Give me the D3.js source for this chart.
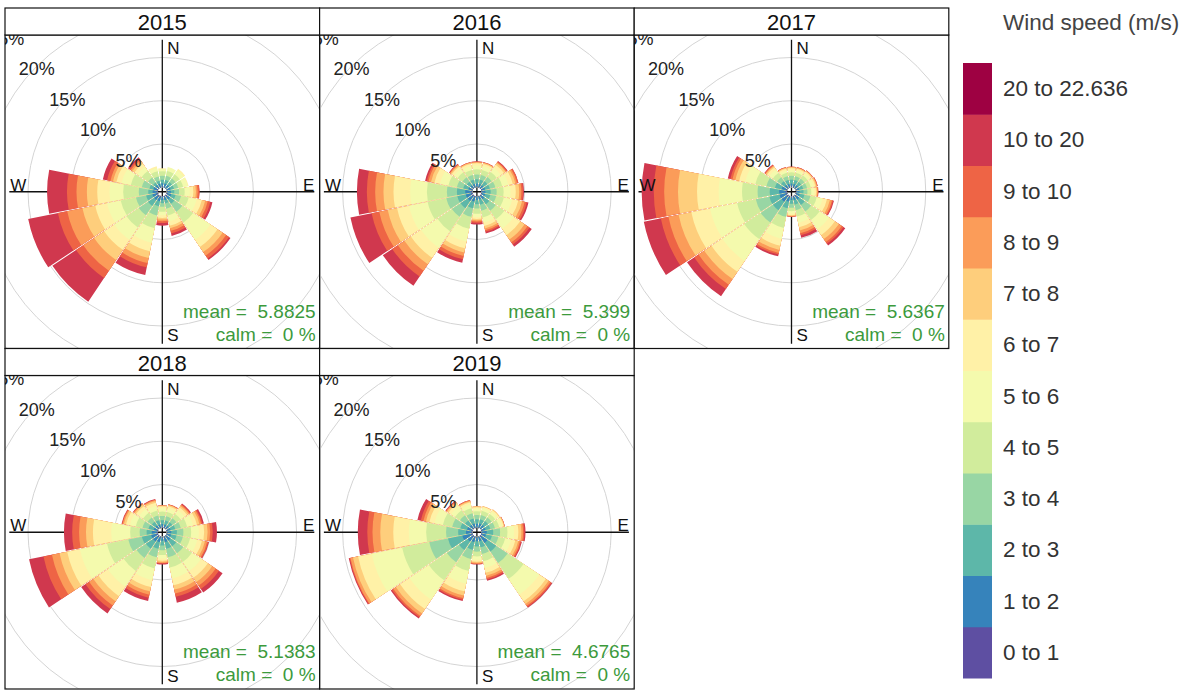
<!DOCTYPE html>
<html>
<head>
<meta charset="utf-8">
<script src="https://cdn.jsdelivr.net/npm/d3@7"></script>
<style>
  html, body { margin: 0; padding: 0; background: #fff; }
  svg text { font-family: "Liberation Sans", Arial, sans-serif; white-space: pre; }
</style>
</head>
<body>
<svg id="chart" width="1195" height="690"></svg>
<script>
// ---- data -------------------------------------------------------------
const years = ["2015", "2016", "2017", "2018", "2019"];
const directions = ["N","NNE","NE","ENE","E","ESE","SE","SSE","S","SSW","SW","WSW","W","WNW","NW","NNW"];
const bearings = [0, 22.5, 45, 67.5, 90, 112.5, 135, 157.5, 180, 202.5, 225, 247.5, 270, 292.5, 315, 337.5];
const speedBins = ["0 to 1","1 to 2","2 to 3","3 to 4","4 to 5","5 to 6","6 to 7","7 to 8","8 to 9","9 to 10","10 to 20","20 to 22.636"];
const meanSpeed = ["5.8825", "5.399", "5.6367", "5.1383", "4.6765"];
const calmPct = [0, 0, 0, 0, 0];
const ringTicks = [5, 10, 15, 20, 25];

// frequency (%) per direction (rows, N..NNW) and speed bin (columns, 0-1 .. 20-22.636)
const freq2015 = [
  [0.12,0.35,0.40,0.45,0.53,0.25,0.10,0,0,0,0,0],
  [0.12,0.35,0.40,0.50,0.58,0.45,0,0,0,0,0,0],
  [0.12,0.35,0.40,0.50,0.58,0.55,0.20,0,0,0,0,0],
  [0.12,0.35,0.40,0.50,0.58,0.55,0.10,0,0,0,0,0],
  [0.12,0.35,0.40,0.55,0.65,0.60,0.40,0.30,0.20,0.20,0.03,0],
  [0.15,0.40,0.50,0.65,0.90,0.95,0.60,0.40,0.30,0.30,0.25,0],
  [0.18,0.42,0.60,1.10,1.50,2.40,1.00,0.70,0.50,0.40,0.20,0],
  [0.12,0.35,0.40,0.63,0.80,0.70,0.50,0.30,0.30,0.30,0.30,0],
  [0.12,0.33,0.35,0.40,0.60,0.40,0.30,0.20,0.20,0.20,0.30,0],
  [0.20,0.40,0.60,1.10,1.50,1.70,1.00,0.80,0.60,0.50,0.90,0],
  [0.20,0.45,0.85,1.30,1.70,1.70,1.40,1.40,1.50,1.00,3.30,0],
  [0.20,0.45,0.75,1.20,1.80,1.60,1.40,1.50,1.80,1.10,3.50,0],
  [0.15,0.45,0.50,1.10,1.80,1.60,1.40,1.20,1.20,1.10,2.30,0],
  [0.15,0.40,0.45,0.90,1.30,1.10,0.60,0.40,0.30,0.40,0.50,0],
  [0.12,0.35,0.33,0.70,0.90,0.60,0.40,0.30,0.20,0.20,0.20,0],
  [0.12,0.33,0.35,0.50,0.60,0.40,0.20,0,0,0,0,0]
];
const freq2016 = [
  [0.12,0.30,0.50,0.55,0.60,0.45,0.25,0.10,0.06,0.04,0.03,0],
  [0.12,0.30,0.50,0.55,0.60,0.45,0.25,0.10,0.06,0.04,0.03,0],
  [0.12,0.30,0.55,0.60,0.70,0.60,0.40,0.25,0.10,0.10,0.08,0],
  [0.12,0.35,0.55,0.65,0.80,0.75,0.50,0.30,0.20,0.15,0.03,0],
  [0.12,0.35,0.60,0.70,0.80,0.80,0.60,0.40,0.25,0.20,0.10,0],
  [0.12,0.35,0.60,0.70,0.90,1.00,0.70,0.45,0.30,0.25,0.20,0],
  [0.15,0.40,0.70,0.90,1.20,1.30,0.90,0.60,0.40,0.30,0.30,0],
  [0.12,0.30,0.60,0.70,0.80,0.60,0.40,0.30,0.20,0.20,0.20,0],
  [0.12,0.30,0.50,0.50,0.60,0.40,0.20,0.15,0.15,0.15,0.20,0],
  [0.15,0.50,0.80,1.00,1.40,1.50,0.80,0.50,0.40,0.40,0.40,0],
  [0.20,0.60,1.00,1.20,2.00,2.30,1.40,0.90,0.90,0.80,1.30,0],
  [0.20,0.60,1.00,1.30,2.20,2.20,1.40,1.10,1.00,0.90,2.50,0],
  [0.20,0.63,0.96,1.16,2.31,1.93,1.93,1.16,0.96,0.96,1.15,0],
  [0.15,0.35,0.60,0.75,1.00,1.00,0.65,0.40,0.30,0.20,0.20,0],
  [0.12,0.30,0.50,0.60,0.70,0.50,0.30,0.15,0.10,0.07,0.06,0],
  [0.12,0.30,0.50,0.55,0.60,0.45,0.25,0.10,0.06,0.04,0.03,0]
];
const freq2017 = [
  [0.12,0.30,0.45,0.45,0.40,0.30,0.18,0.10,0.05,0.03,0.02,0],
  [0.12,0.30,0.45,0.45,0.40,0.30,0.18,0.10,0.05,0.03,0.02,0],
  [0.12,0.30,0.45,0.45,0.45,0.33,0.20,0.10,0.05,0.03,0.02,0],
  [0.12,0.30,0.45,0.45,0.45,0.35,0.20,0.12,0.08,0.05,0.03,0],
  [0.12,0.30,0.45,0.45,0.45,0.35,0.20,0.12,0.08,0.05,0.03,0],
  [0.12,0.35,0.55,0.70,0.75,0.70,0.50,0.35,0.25,0.13,0.10,0],
  [0.15,0.45,0.75,0.90,1.20,1.30,0.80,0.55,0.40,0.25,0.25,0],
  [0.12,0.35,0.55,0.65,0.75,0.75,0.50,0.40,0.30,0.25,0.30,0],
  [0.12,0.30,0.45,0.45,0.40,0.30,0.15,0.10,0.06,0.04,0.03,0],
  [0.15,0.50,0.80,1.00,1.30,1.30,0.80,0.50,0.35,0.20,0.20,0],
  [0.20,0.70,1.20,1.70,2.30,3.05,1.50,1.00,0.80,0.60,1.00,0],
  [0.20,0.70,1.20,1.60,2.20,3.20,2.20,1.50,1.20,0.90,2.00,0],
  [0.20,0.70,1.10,1.40,1.80,2.70,2.50,2.20,1.60,1.20,1.40,0],
  [0.15,0.50,0.80,1.00,1.30,1.20,0.70,0.45,0.35,0.25,0.30,0],
  [0.12,0.35,0.50,0.55,0.60,0.50,0.30,0.15,0.10,0.08,0.05,0],
  [0.12,0.30,0.45,0.45,0.40,0.30,0.18,0.10,0.05,0.03,0.02,0]
];
const freq2018 = [
  [0.12,0.30,0.45,0.50,0.50,0.40,0.20,0.08,0.03,0.01,0.01,0],
  [0.12,0.30,0.45,0.50,0.50,0.45,0.25,0.12,0.05,0.04,0.02,0],
  [0.12,0.30,0.50,0.55,0.60,0.55,0.35,0.20,0.13,0.10,0.10,0],
  [0.12,0.35,0.55,0.65,0.75,0.70,0.45,0.30,0.20,0.15,0.18,0],
  [0.12,0.40,0.65,0.75,0.90,0.90,0.60,0.40,0.30,0.30,0.48,0],
  [0.12,0.40,0.65,0.75,0.85,0.85,0.55,0.35,0.25,0.15,0.08,0],
  [0.15,0.50,0.80,1.00,1.20,1.30,0.90,0.60,0.50,0.45,0.50,0],
  [0.15,0.50,0.80,1.00,1.20,1.30,0.80,0.50,0.45,0.40,0.70,0],
  [0.12,0.35,0.55,0.55,0.55,0.40,0.25,0.15,0.10,0.08,0.10,0],
  [0.15,0.50,0.80,1.00,1.30,1.40,0.80,0.50,0.40,0.35,0.40,0],
  [0.20,0.60,1.00,1.30,1.80,2.20,1.30,0.70,0.60,0.50,0.60,0],
  [0.20,0.60,1.10,1.60,2.50,3.20,1.50,0.90,0.90,1.00,1.70,0],
  [0.15,0.55,0.60,0.80,1.10,2.20,2.10,0.80,0.80,0.80,0.95,0],
  [0.12,0.40,0.60,0.70,0.80,0.70,0.45,0.25,0.15,0.08,0.05,0],
  [0.12,0.35,0.50,0.60,0.65,0.55,0.40,0.20,0.12,0.06,0.05,0],
  [0.12,0.30,0.50,0.55,0.60,0.55,0.35,0.20,0.12,0.06,0.05,0]
];
const freq2019 = [
  [0.12,0.35,0.50,0.50,0.45,0.30,0.15,0.08,0.05,0,0,0],
  [0.12,0.40,0.50,0.50,0.50,0.33,0.15,0.06,0.04,0,0,0],
  [0.12,0.40,0.55,0.50,0.50,0.35,0.18,0.07,0.03,0,0,0],
  [0.12,0.40,0.55,0.55,0.50,0.35,0.18,0.08,0.04,0.02,0.01,0],
  [0.12,0.50,0.75,0.80,0.85,0.75,0.50,0.35,0.20,0.15,0.13,0],
  [0.12,0.45,0.70,0.75,0.80,0.70,0.50,0.35,0.20,0.13,0.10,0],
  [0.20,0.80,1.20,1.60,2.20,2.20,0.90,0.40,0.25,0.15,0.10,0],
  [0.12,0.45,0.70,0.80,0.85,0.80,0.55,0.35,0.25,0.18,0.15,0],
  [0.12,0.40,0.60,0.60,0.55,0.40,0.22,0.12,0.08,0.06,0.05,0],
  [0.15,0.50,0.90,1.10,1.40,1.50,0.90,0.50,0.30,0.20,0.15,0],
  [0.20,0.60,1.20,1.70,2.50,2.70,1.30,0.60,0.35,0.20,0.15,0],
  [0.20,1.00,1.70,2.20,3.20,3.60,1.60,0.60,0.30,0.10,0.10,0],
  [0.15,0.60,0.90,1.40,2.30,2.00,1.80,1.50,0.90,0.60,1.10,0],
  [0.15,0.50,0.80,0.95,1.10,1.00,0.60,0.40,0.30,0.30,0.40,0],
  [0.12,0.40,0.65,0.70,0.70,0.55,0.35,0.20,0.10,0.05,0.08,0],
  [0.12,0.40,0.60,0.60,0.60,0.45,0.25,0.14,0.08,0.04,0.02,0]
];
const yearFreq = [freq2015, freq2016, freq2017, freq2018, freq2019];

// ---- colours: Spectral ramp sampled into 12 speed classes ----------------
const spectral = ["#5E4FA2","#3288BD","#66C2A5","#ABDDA4","#E6F598","#FFFFBF",
                  "#FEE08B","#FDAE61","#F46D43","#D53E4F","#9E0142"];
const ramp = d3.piecewise(d3.interpolateRgb, spectral);
const binColours = d3.range(speedBins.length).map(i => ramp(i / (speedBins.length - 1)));

// ---- layout -------------------------------------------------------------
const svg = d3.select("#chart");
const gridX0 = 5, cellW = 314.6, gridY0 = 8, stripH = 27, plotH = 313.5;
const r = d3.scaleLinear().domain([0, 25]).range([4.5, 220.75]);
const rad = d => d * Math.PI / 180;
const halfWidth = 11.25;
const arc = d3.arc().padAngle(0.01).padRadius(100);
const axisLen = 152;
const statCol = "#3c9a3c";

years.forEach((yr, i) => {
  const col = i % 3, row = Math.floor(i / 3);
  const x0 = gridX0 + col * cellW;
  const y0 = gridY0 + row * (stripH + plotH);
  const py0 = y0 + stripH;
  const cx = x0 + cellW / 2, cy = py0 + plotH / 2;

  const clipId = "clip" + yr;
  svg.append("clipPath").attr("id", clipId)
    .append("rect").attr("x", x0).attr("y", py0).attr("width", cellW).attr("height", plotH);

  const panel = svg.append("g").attr("clip-path", `url(#${clipId})`);
  const c = panel.append("g").attr("transform", `translate(${cx},${cy})`);

  // frequency rings
  c.selectAll("circle.ring").data(ringTicks).join("circle")
    .attr("class", "ring")
    .attr("r", d => r(d))
    .attr("fill", "none")
    .attr("stroke", "#d4d4d4")
    .attr("stroke-width", 1);

  // compass axes
  c.append("line").attr("x1", 0).attr("x2", 0).attr("y1", -axisLen).attr("y2", axisLen)
    .attr("stroke", "#111").attr("stroke-width", 1.3);
  c.append("line").attr("x1", -axisLen - 1).attr("x2", axisLen).attr("y1", 0).attr("y2", 0)
    .attr("stroke", "#111").attr("stroke-width", 1.3);

  // stacked wedges: outer classes first so inner classes sit on top
  const segs = [];
  yearFreq[i].forEach((bins, di) => {
    const cum = d3.cumsum(bins);
    for (let k = bins.length - 1; k >= 0; k--) {
      if (bins[k] > 0) segs.push({ dir: directions[di], angle: bearings[di], k, outer: cum[k] });
    }
  });
  c.selectAll("path.seg").data(segs).join("path")
    .attr("class", "seg")
    .attr("d", d => arc({
      innerRadius: r(0),
      outerRadius: r(d.outer),
      startAngle: rad(d.angle - halfWidth),
      endAngle: rad(d.angle + halfWidth)
    }))
    .attr("fill", d => binColours[d.k]);

  // ring labels along the NW diagonal
  c.selectAll("text.pct").data(ringTicks).join("text")
    .attr("class", "pct")
    .attr("x", d => -r(d) * Math.SQRT1_2)
    .attr("y", d => -r(d) * Math.SQRT1_2 + 3)
    .attr("text-anchor", "middle")
    .attr("dominant-baseline", "central")
    .attr("font-size", 18)
    .attr("fill", "#222")
    .text(d => d + "%");

  // compass letters
  const letters = [
    { t: "N", x: 5, y: -axisLen + 9, anchor: "start", base: "central" },
    { t: "S", x: 5, y: axisLen - 8, anchor: "start", base: "central" },
    { t: "W", x: -axisLen, y: -1, anchor: "start", base: "auto" },
    { t: "E", x: axisLen, y: -1, anchor: "end", base: "auto" }
  ];
  c.selectAll("text.dir").data(letters).join("text")
    .attr("class", "dir")
    .attr("x", d => d.x).attr("y", d => d.y)
    .attr("text-anchor", d => d.anchor)
    .attr("dominant-baseline", d => d.base)
    .attr("font-size", 17)
    .attr("fill", "#111")
    .text(d => d.t);

  // summary statistics
  c.append("text")
    .attr("x", cellW / 2 - 4).attr("y", 126)
    .attr("text-anchor", "end").attr("font-size", 19).attr("fill", statCol)
    .text(`mean =  ${meanSpeed[i]}`);
  c.append("text")
    .attr("x", cellW / 2 - 4).attr("y", 149)
    .attr("text-anchor", "end").attr("font-size", 19).attr("fill", statCol)
    .text(`calm =  ${calmPct[i]} %`);

  // panel frame and strip
  svg.append("rect").attr("x", x0).attr("y", py0).attr("width", cellW).attr("height", plotH)
    .attr("fill", "none").attr("stroke", "#111").attr("stroke-width", 1.2);
  svg.append("rect").attr("x", x0).attr("y", y0).attr("width", cellW).attr("height", stripH)
    .attr("fill", "#fff").attr("stroke", "#111").attr("stroke-width", 1.2);
  svg.append("text")
    .attr("x", cx).attr("y", y0 + stripH / 2 + 1)
    .attr("text-anchor", "middle").attr("dominant-baseline", "central")
    .attr("font-size", 22).attr("fill", "#111")
    .text(yr);
});

// ---- colour key -----------------------------------------------------------
const keyX = 963, keyW = 29, keyTop = 63, keyH = 615;
const keyStep = keyH / speedBins.length;
const key = svg.append("g");
key.append("text")
  .attr("x", 1003).attr("y", 22)
  .attr("dominant-baseline", "central")
  .attr("font-size", 22.5).attr("fill", "#444")
  .text("Wind speed (m/s)");
key.selectAll("rect.bin").data(speedBins).join("rect")
  .attr("class", "bin")
  .attr("x", keyX)
  .attr("y", (d, i) => keyTop + (speedBins.length - 1 - i) * keyStep)
  .attr("width", keyW)
  .attr("height", keyStep + 0.5)
  .attr("fill", (d, i) => binColours[i]);
key.selectAll("text.bin").data(speedBins).join("text")
  .attr("class", "bin")
  .attr("x", 1003)
  .attr("y", (d, i) => keyTop + (speedBins.length - 1 - i) * keyStep + keyStep / 2)
  .attr("dominant-baseline", "central")
  .attr("font-size", 22.5).attr("fill", "#333")
  .text(d => d);
</script>
</body>
</html>
